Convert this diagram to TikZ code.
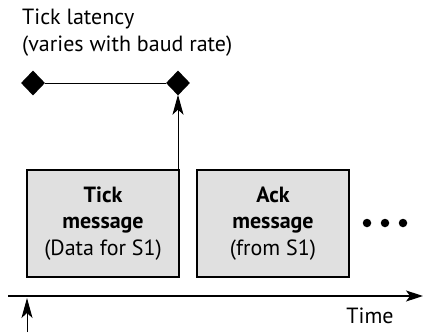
\documentclass[tikz,border=0pt]{standalone}
\usepackage{fontspec}
\setmainfont{PT Sans}
\usetikzlibrary{shapes.geometric,arrows.meta}

\begin{document}
\begin{tikzpicture}[
    x=1pt, y=-1pt,
    every node/.style={font=\fontsize{22}{26.5}\selectfont},
    msgbox/.style={draw, line width=1.4pt, fill=black!12,
                   minimum width=152pt, minimum height=107pt,
                   align=center, inner sep=0pt},
    marker/.style={diamond, fill=black, minimum width=24pt,
                   minimum height=25pt, inner sep=0pt},
    dot/.style={circle, fill=black, minimum size=8.5pt, inner sep=0pt},
    tip/.style={-{Stealth[length=20pt,width=11pt,inset=5pt]}, line width=1pt},
]

\useasboundingbox (0,0) rectangle (423,332);

% latency label and markers
\node [anchor=north west, align=left, inner sep=0pt] (latency) at (22,9)
      {Tick latency\\(varies with baud rate)};
\node [marker] (lat-start) at (33,83) {};
\node [marker] (lat-end) at (178,83) {};
\draw [line width=1pt] (lat-start) -- (lat-end);

% messages
\node [msgbox] (tick) at (103,223.5)
      {\textbf{Tick}\\\textbf{message}\\(Data for S1)};
\node [msgbox] (ack) at (273,223.5)
      {\textbf{Ack}\\\textbf{message}\\(from S1)};
\foreach \x [count=\i] in {367,385,403}
    \node [dot] (dot\i) at (\x,223) {};

\draw [tip] (tick.north east -| lat-end) -- ([yshift=1pt]lat-end.south);

% time axis
\coordinate (t-start) at (8,296);
\coordinate (t-end) at (423,296);
\draw [-{Stealth[length=17pt,width=11pt,inset=4pt]}, line width=1.3pt]
      (t-start) -- (t-end);
\node (time) at (370,316) {Time};

\coordinate (mark-base) at (27,332);
\coordinate (mark-top) at (27,298);
\draw [tip] (mark-base) -- (mark-top);

\end{tikzpicture}
\end{document}
